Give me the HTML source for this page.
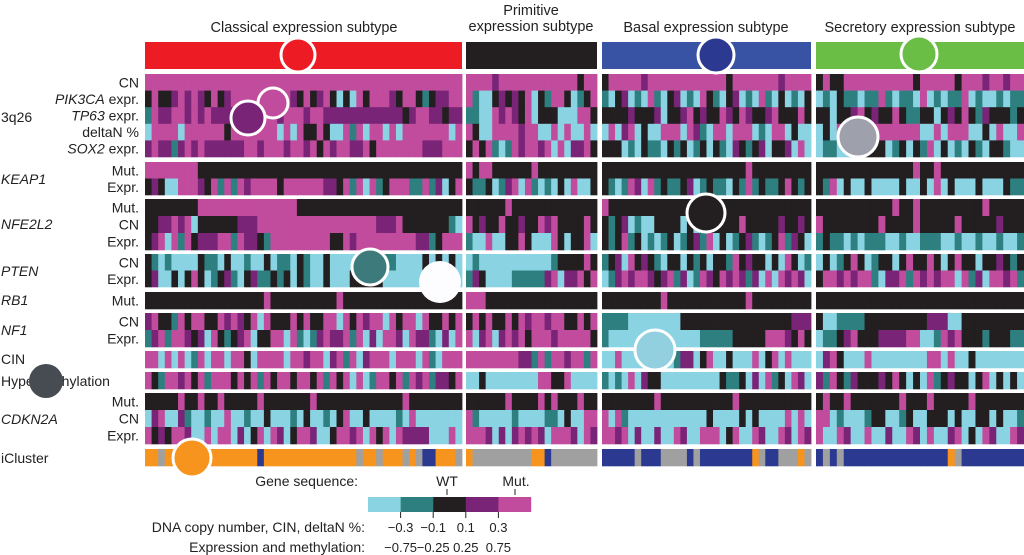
<!DOCTYPE html>
<html><head><meta charset="utf-8">
<style>
html,body{margin:0;padding:0;background:#fff;}
svg{display:block;font-family:"Liberation Sans",sans-serif;}
</style></head>
<body>
<svg id="chart" width="1024" height="555" viewBox="0 0 1024 555" xmlns="http://www.w3.org/2000/svg">
<g id="titles" font-size="14.5" fill="#222">
 <text x="304" y="32" text-anchor="middle">Classical expression subtype</text>
 <text x="531" y="15" text-anchor="middle">Primitive</text>
 <text x="531" y="31" text-anchor="middle">expression subtype</text>
 <text x="706" y="32" text-anchor="middle">Basal expression subtype</text>
 <text x="920" y="32" text-anchor="middle">Secretory expression subtype</text>
</g>
<g id="subtype-bars"></g>
<g id="cells"></g>
<g id="labels" font-size="14" fill="#222"></g>
<g id="legend" font-size="14" fill="#222">
 <text x="358" y="486" text-anchor="end">Gene sequence:</text>
 <text x="447" y="486" text-anchor="middle">WT</text>
 <text x="516" y="486" text-anchor="middle">Mut.</text>
 <line x1="447" y1="489" x2="447" y2="495" stroke="#222"/>
 <line x1="515" y1="489" x2="515" y2="495" stroke="#222"/>
 <text x="365" y="532" text-anchor="end">DNA copy number, CIN, deltaN %:</text>
 <text x="365" y="552" text-anchor="end">Expression and methylation:</text>
</g>
<g id="legend-scale"></g>
<g id="markers"></g>
</svg>
<script>
// ---- colour codes ----
const codeColors = {L:'#8ad3e3',T:'#2e8080',K:'#231f20',P:'#7a2478',M:'#c14b9c',O:'#f7941d',G:'#a0a0a0',N:'#2b3990'};
// ---- categories ----
const subtypes = ['Classical','Primitive','Basal','Secretory'];
const subtypeColors = ['#ed1c24','#231f20','#3853a4','#6abd45'];
const rowNames = ['CN','PIK3CA expr.','TP63 expr.','deltaN %','SOX2 expr.','KEAP1 Mut.','KEAP1 Expr.','NFE2L2 Mut.','NFE2L2 CN','NFE2L2 Expr.','PTEN CN','PTEN Expr.','RB1 Mut.','NF1 CN','NF1 Expr.','CIN','Hypermethylation','CDKN2A Mut.','CDKN2A CN','CDKN2A Expr.','iCluster'];
// ---- per-subtype cell values (one string per row) ----
const classical = [
"MMMMMMMMMMMMMMMMMMMMMMMMMMMMMMMMMMMMMMMMMMMMMMMM",
"KMKKPMPMPKMKPMMMMMMMMMPKMKPMKLKLMKMMMPKMMKTKPPMM",
"TMPPMMPMPMPPPPMMMMMMPMMMPMMPPPPPPPPPPPPKPMMPPKPP",
"LMMMMLMMMMMMKMMMMMMMLMLMKKMKLLMTMLMMLMLMMMMMMMLM",
"PMPPTPMPMPPPPPPMMPMMMPMMPMKMPMMPPMKMMMMMMMPPPMMM",
"MMMMMMMMKKKKKKKKKKKKKKKKKKKKKKKKKKKKKKKKKKKKKKKK",
"KPKLLMMMPKMTMTMPMMMMKMMMMMMPPKMTMLMTKMMMTTMTPLKM",
"KKKKKKKKMMMMMMMMMMMMMMMKKKKKKKKKKKKKKKKKKKKKKKKK",
"KKPPMPMLKKKKKKPPPMMMMMMMMMMMMMMMMMMPPPMKKKKKKKTL",
"KPMLMTMKPPPMMTMPPKTMMMMMMMMMKKMPMMMMMMMMMPPTKMMM",
"KTLTLLLLKTTLKLLTLLKLTTLKTLLKLLLLLLKTTTLLLLKLKLKL",
"KPLLKLKMKLTKPTLKPTTKTKLKTLLKLLLKKKKKLLLLLLTLLLLL",
"KKKKKKKKKKKKKKKKKKMKKKKKKKKKKMKKKKKKKKKKKKKKKKKK",
"PMKKTMKMMKKMPMPKMLMKKKMKMKKMMLMKMPMMLMKMMLMKKMKM",
"TPMTMMPKPLMKTKPMLKKMMLMTLTPMPPMTMLPLMMPLMPPTLPLM",
"MMLMLMLTMLMMLMMKLMMMMLMMPMMLPMTMLPMMMLMMMLMTLMMM",
"MKTMMPMKMTMMMKMKMTMKMMKMMKMTMKMLMLTMMKMTMPMTPPKM",
"KKKKKMKKMKKMKKKKKMKKKKKKKMKKKKKKKKKKKKKMKKKKKKKK",
"LPMLLPTLLTLLMLLTLLKLLLTLKLLTLKMLLKLLLLTLMLLLLLLL",
"MKPKMMPLLMLMMLPLKMLMPLKMMPLLKMMPMLMKMLMPPPPLLLML",
"OOGOOOOOOOOOOOOOONOOOOOOOOOOOOOOGOOGOOOGOGNNOOOG"];
const primitive = [
"MMMMPMMMMMMMMMMMMKMM","MTLLKPKPKMLKTMMKLTKM","TTLLMPMPKMLKKKLLLMMK","MKLLMMMMPMMLLMLMLLML","KMKMTLTMPMMPMLMLPPMK",
"MKMMKKKKKKMKKKKKKKKK","KTTKLTPMLMTLTLKLMLLK","KKKKKKMKKKKKKKKKKKKK","MKPKKMKKPKKMPMKKKKMK","TLLMLLKKMKLLLMKLKKML",
"LTLLLLLLLLLLLTKKKKMK","TPKLLLLTTTTTPMLPPMKM","MMMKKKKKKKKKKKKKKKKK","KMKMKKMKMPMMPMMKKMKM","MLPMLPMPMKMMMPMMMMMK",
"MMMMMMMMPPTMTMMPMMTM","LLKLLLLLLLLMMKKMLLLL","KKKKKKMKKKKMKMKKKMKK","MTLLLLLTLLLLTTLKLLMM","MMMPLPLPMPMPLMMMPLMP",
"OGGGGGGGGGOONGGGGGGG"];
const basal = [
"KMMMMMPMMMMMMMMMMMMKMMMMMMMPMMMM","TLKPLTLMTLKPLTLMKTLKPLTLMTLKLTLK","KKKKPKKKPLKKPMKPKKMPKMPKKPMKKKMK","LMLPMLKLLMMMLMPTLMMLMMMLTLMMLKLL","KKKLTLKTTLKTKLTKLKTLPKTKPLKKPLML",
"KKKKKKKKKKKKKKKKKKKKKKMKKKKKKKKK","KTLTMPLMTKTTKPLTKTTLKTMTKTTKMKTK","MKKKKKKKKKKKKKKKKKKKKKKKKKKKKKKK","KTKPLTLLKKKKLKLKKKKKKMKKKKKPKKPK","KTKMTKLTLTKLTKPTMLKLTKPTLTKMTPKL",
"TKPLMKPKTLKKLKTKLKKTMKPKKLKLMKLT","LTPMPMMPKPMTPLTMPKMPMPTPLMLMPMPL","KKKKKKKKKMKKKKKKKKKKKKMKKKKKKKKK","TTTTLLLLLLLLKKKKKKKKKKKKKKKKKPPP","TLLLLLLLLLLLLLLTTTTTKKKKKMMMPKMK",
"LLMLLLLLLLLTPPLKMLLKLLLMLKMLMLLL","TLTLMLPKKLLLLLLLLLKTTKLPLMTKLMPL","KKKKKKKKMKKKKKKKKKKKMKKKKKKKKKKK","MLMTLLLLLLLLLLLLKLLLLKLKLLLLMLML","MMPMLPLLPLLMPLLMMMLKMLLMPLLMPLMP",
"NNNNNGNNNGGGGNGNNNNNNNNOGNNGGGOG"];
const secretory = [
"KMKKMMMMMMMMMMKMMMMMKMMMPMMPMM","LTLKTTLTTMTLTTLMLTLTTMLTLLTLTT","KKLKKPMKPKKMKTTKKLKPKMKTPKKKTK","LKLMLPMMMMMMMMMLLMLMMMLLKLMLLM","LTTLLKLKKKLTKLKTMLKLTLKTLKKTLL",
"KKKKKKKKKKKKKKMKKMKKKKKKKKKKKK","KTMLKLLKLLLLKLLKLMLKLLLKLLLKTT","KKKKKKKKKKKMKKMKKKKKKKKKMKKKKK","MKKKKKKKKMKKKKMKKKKKMKKKKKPKKK","TKTTLTLTTTLLTLLTTTLLTLLTLLTLLT",
"LKLTKMKLTKKLKMKKMKLKMKKLKKPKTK","KMMPMPMMTLPPMTMPMPMMLMTPLMMPMT","KKKKKKKKKKKKKKKKKKKKKKKKKKKKKK","KLLTTTTKKKKKKKKKPPPLLKKKKKKKKK","LTTKPMKKKPPPPMMLLTMPMKKKTKKKTT",
"LPMKLLLMLLLLLLLLMMLMLLKLLLLLLL","PTMKTPKKKPKMKLKLMTKPKKLKMLKLKL","KMKKMKKKKKKKMKKKMKKKKKMKKKKKKK","MMLTLLLTKKLLTKLLKKKLKLLKKLKLLT","MLLMPLLMLLPLLMPLMLLPMLKLMPLLMP",
"NGNGNNNNNNNNNNNNNNNOGNNNNNNNNN"];
const legendCodes = ['L','T','K','P','M'];
const cnTicks = ['\u22120.3','\u22120.1','0.1','0.3'];
const exprTicks = ['\u22120.75','\u22120.25','0.25','0.75'];

// ---- layout (not data) ----
const colX = [[145,462],[466,597],[602,811],[816,1024]];
const groups = [[74,157,5],[162,195,2],[199,250,3],[254,287,2],[292,309,1],[313,347,2],[351,368,1],[372,389,1],[393,444,3],[449,466,1]];
const rowY = [];
groups.forEach(g=>{const h=(g[1]-g[0])/g[2];for(let i=0;i<g[2];i++)rowY.push([g[0]+i*h,h]);});
const NS='http://www.w3.org/2000/svg';
function mk(tag,attrs,parent){const e=document.createElementNS(NS,tag);for(const k in attrs)e.setAttribute(k,attrs[k]);parent.appendChild(e);return e;}

const bars=document.getElementById('subtype-bars');
subtypes.forEach((s,i)=>{
 const r=mk('rect',{x:colX[i][0],y:42,width:colX[i][1]-colX[i][0],height:27,fill:subtypeColors[i]},bars);
 
 
});

const cells=document.getElementById('cells');
[classical,primitive,basal,secretory].forEach((block,bi)=>{
 const x0=colX[bi][0],w=colX[bi][1]-colX[bi][0];
 block.forEach((row,ri)=>{
  const cw=w/row.length;const [y,h]=rowY[ri];
  for(let c=0;c<row.length;c++){
   const r=mk('rect',{x:(x0+c*cw).toFixed(2),y:y.toFixed(2),width:(cw+0.4).toFixed(2),height:(h+0.3).toFixed(2),fill:codeColors[row[c]]},cells);
   
   
  }
 });
});

// ---- labels ----
const lab=document.getElementById('labels');
const subLabels=[['CN',0],['PIK3CA',1,' expr.'],['TP63',2,' expr.'],['deltaN %',3],['SOX2',4,' expr.'],['Mut.',5],['Expr.',6],['Mut.',7],['CN',8],['Expr.',9],['CN',10],['Expr.',11],['Mut.',12],['CN',13],['Expr.',14],['Mut.',17],['CN',18],['Expr.',19]];
subLabels.forEach(l=>{
 const [y,h]=rowY[l[1]];
 const t=mk('text',{x:139,y:(y+h/2+5).toFixed(1),'text-anchor':'end'},lab);
 
 
 if(l[2]){const a=mk('tspan',{'font-style':'italic'},t);a.textContent=l[0];const b=mk('tspan',{},t);b.textContent=l[2];}
 else t.textContent=l[0];
});
const geneLabels=[['3q26',122,0],['KEAP1',184,1],['NFE2L2',229,1],['PTEN',276,1],['RB1',305,1],['NF1',335,1],['CIN',364,0],['Hypermethylation',386,0],['CDKN2A',424,1],['iCluster',463,0]];
geneLabels.forEach(g=>{
 const t=mk('text',{x:1,y:g[1]},lab);
 if(g[2])t.setAttribute('font-style','italic');
 
 
 t.textContent=g[0];
});

// ---- legend scale ----
const lg=document.getElementById('legend-scale');
legendCodes.forEach((c,i)=>{
 const r=mk('rect',{x:368+i*32.6,y:497,width:32.8,height:15,fill:codeColors[c]},lg);
 
 
});
cnTicks.forEach((t,i)=>{
 const x=400.6+i*32.6;
 mk('line',{x1:x,y1:512,x2:x,y2:518,stroke:'#222'},lg);
 const a=mk('text',{x:x,y:532,'text-anchor':'middle','font-size':13,fill:'#222'},lg);
 
 
 a.textContent=t;
 const b=mk('text',{x:x,y:552,'text-anchor':'middle','font-size':13,fill:'#222'},lg);
 
 
 b.textContent=exprTicks[i];
});

// ---- circle markers ----
const mg=document.getElementById('markers');
const marks=[[298,55,17,'#ed1c24',1],[273,103,15,'#c14b9c',1],[248,118,17,'#7a2478',1],[716,55,18,'#2b3990',1],[919,54,18,'#6abd45',1],[858,137,20,'#9ea1ab',1],[706,213,19,'#231f20',1],[370,267,18,'#3d7a7c',1],[440,282,21,'#fdfdff',0],[655,350,20,'#92d0e0',1],[46,381,17,'#474b52',0],[192,458,19,'#f7941d',1]];
marks.forEach(m=>{
 const c=mk('circle',{cx:m[0],cy:m[1],r:m[2],fill:m[3],stroke:m[4]?'#fff':'none','stroke-width':3},mg);
 
 
});
</script>
</body></html>
